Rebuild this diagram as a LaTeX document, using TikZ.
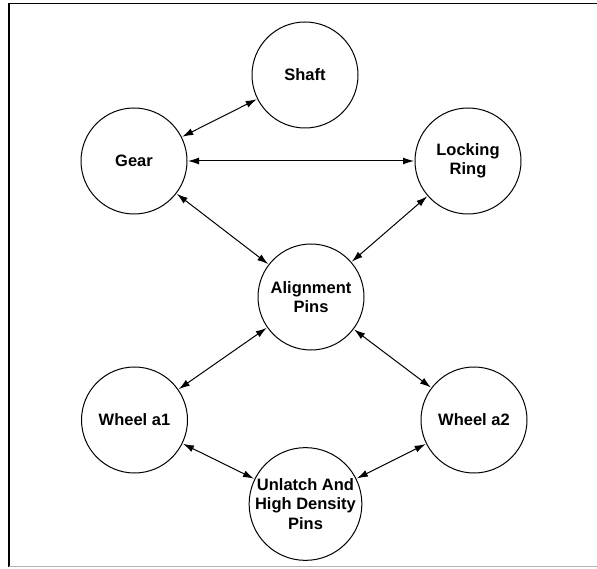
\documentclass[tikz,border=0pt]{standalone}
\usepackage{fontspec}
\setmainfont{Liberation Sans}
\usetikzlibrary{arrows.meta}
\tikzset{
  comp/.style={circle, draw, line width=1pt, minimum size=106pt, inner sep=0pt,
    align=center, font=\fontsize{16.5}{19.5}\selectfont\bfseries},
  link/.style={line width=1pt, {Latex[length=11pt,width=7pt]}-{Latex[length=11pt,width=7pt]}, shorten <=0.5pt, shorten >=0.5pt}
}
\begin{document}
\begin{tikzpicture}[x=1pt,y=-1pt]
\useasboundingbox (0,0) rectangle (597,569);
\draw[line width=1.1pt] (9,567) -- (9,3.5) -- (597,3.5);
\draw[line width=0.4pt, gray!60] (9,566.5) -- (597,566.5);
\node[comp] (shaft) at (305,75) {Shaft};
\node[comp] (gear) at (134,161) {Gear};
\node[comp] (lock) at (468,161) {Locking\\Ring};
\node[comp] (align) at (311,297) {Alignment\\Pins};
\node[comp] (w1) at (134.5,420) {Wheel a1};
\node[comp] (w2) at (474,420) {Wheel a2};
\node[comp] (unl) at (305.5,504) {Unlatch And\\High Density\\Pins};
\draw[link] (gear) -- (shaft);
\draw[link] (gear) -- (lock);
\draw[link] (gear) -- (align);
\draw[link] (lock) -- (align);
\draw[link] (align) -- (w1);
\draw[link] (align) -- (w2);
\draw[link] (w1) -- (unl);
\draw[link] (w2) -- (unl);
\end{tikzpicture}
\end{document}
